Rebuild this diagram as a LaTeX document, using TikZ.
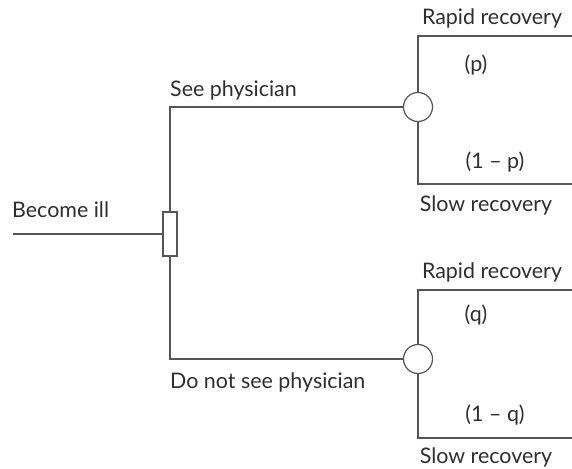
\documentclass[tikz,border=0pt]{standalone}
\usepackage{fontspec}
\setmainfont{Lato}
\definecolor{ink}{HTML}{2E2E2E}
\definecolor{wire}{HTML}{555555}
\begin{document}
\begin{tikzpicture}[x=1bp,y=-1bp,
  wire/.style={draw=wire,line width=1.2bp},
  chance/.style={circle,draw=wire,line width=1.2bp,fill=white,minimum size=29bp,inner sep=0pt},
  decision/.style={rectangle,draw=wire,line width=1.2bp,fill=white,minimum width=14bp,minimum height=44bp,inner sep=0pt},
  lbl/.style={text=ink,font=\fontsize{21.5}{24}\selectfont,inner sep=0pt}]
\useasboundingbox (0,0) rectangle (572,469);

% decision and chance nodes
\node[decision] (d) at (170,234) {};
\node[chance] (c1) at (418,107) {};
\node[chance] (c2) at (418,359) {};

% free ends of the branches
\coordinate (start) at (13,234);
\coordinate (e1) at (572,36);
\coordinate (e2) at (572,184);
\coordinate (e3) at (572,290);
\coordinate (e4) at (572,438);

% branches
\draw[wire] (start) -- (d.west);
\draw[wire] (d.north) |- (c1.west);
\draw[wire] (d.south) |- (c2.west);
\draw[wire] (c1.north) |- (e1);
\draw[wire] (c1.south) |- (e2);
\draw[wire] (c2.north) |- (e3);
\draw[wire] (c2.south) |- (e4);

% labels
\node[lbl,anchor=west] (t0) at (12,210) {Become ill};
\node[lbl,anchor=west] (t1) at (170,90) {See physician};
\node[lbl,anchor=west] (t2) at (170,382) {Do not see physician};
\node[lbl] (t3) at (492,18) {Rapid recovery};
\node[lbl] (t4) at (476,65) {(p)};
\node[lbl] (t5) at (495,162) {(1 – p)};
\node[lbl] (t6) at (486,205) {Slow recovery};
\node[lbl] (t7) at (492,272) {Rapid recovery};
\node[lbl] (t8) at (476,315) {(q)};
\node[lbl] (t9) at (495,415) {(1 – q)};
\node[lbl] (t10) at (486,457) {Slow recovery};
\end{tikzpicture}
\end{document}
